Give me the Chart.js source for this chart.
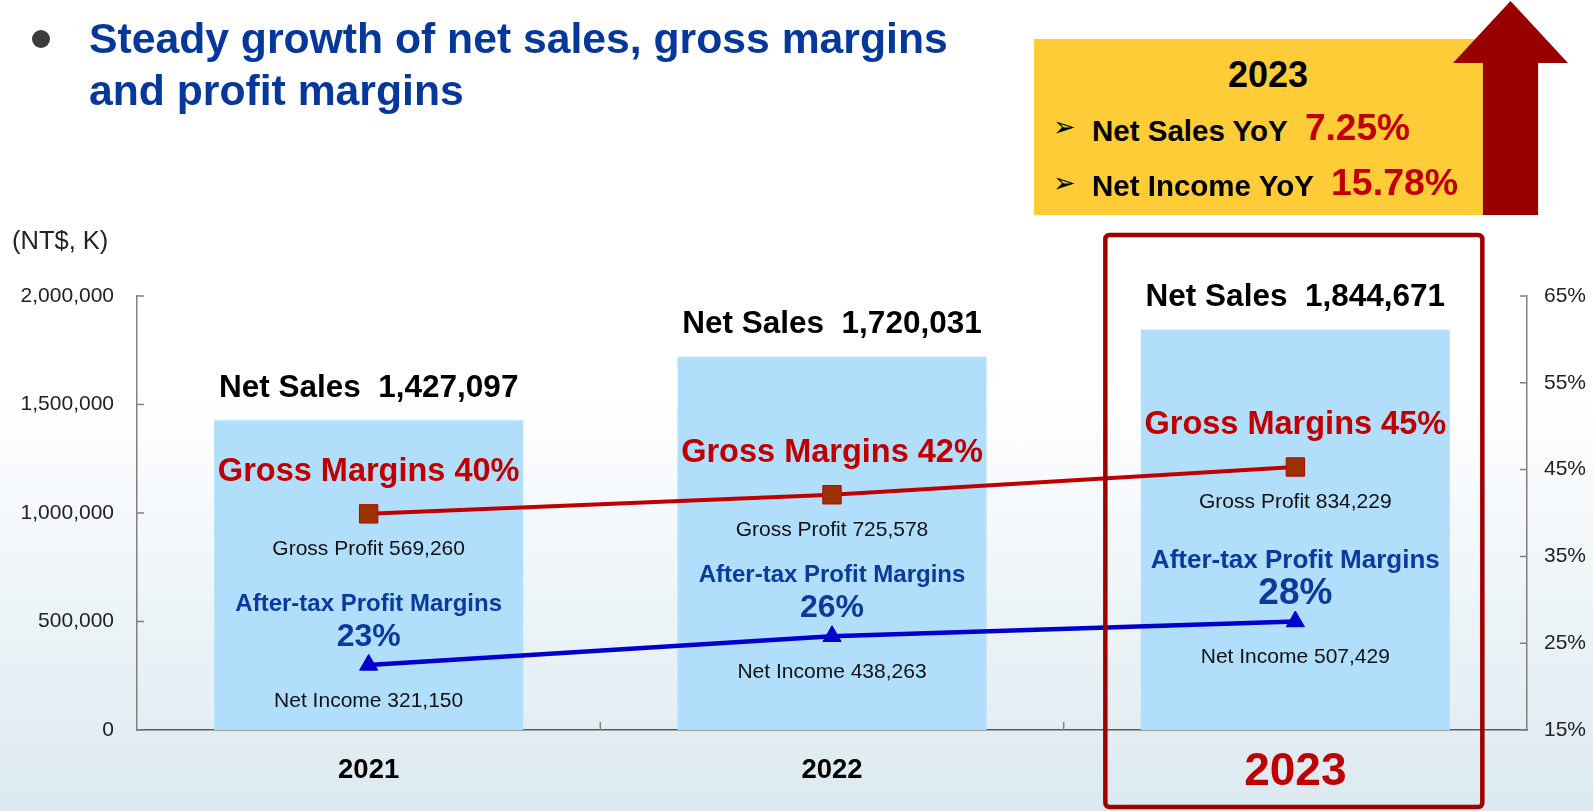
<!DOCTYPE html>
<html>
<head>
<meta charset="utf-8">
<script src="https://cdn.jsdelivr.net/npm/chart.js@4.4.0/dist/chart.umd.min.js"></script>
<style>
  html, body { margin: 0; padding: 0; }
  body {
    width: 1593px; height: 811px; position: relative; overflow: hidden;
    font-family: "Liberation Sans", Arial, sans-serif;
    background: linear-gradient(to bottom, #ffffff 0%, #ffffff 48%, #dce9f0 100%);
  }
  #chart { position: absolute; left: 0; top: 0; }
  .t { position: absolute; white-space: nowrap; line-height: 1; }
  .bullet { position: absolute; left: 32px; top: 30px; width: 18px; height: 18px; border-radius: 50%; background: #3c3c3c; }
  .title { left: 89px; top: 12px; font-size: 42.7px; line-height: 52px; font-weight: bold; color: #06389c; }
  .ybox { position: absolute; left: 1034px; top: 39px; width: 452px; height: 176px; background: #fdcc37; }
  .arrow { position: absolute; left: 1453px; top: 1px; width: 115px; height: 214px; background: #990000;
    clip-path: polygon(50% 0, 100% 29%, 74% 29%, 74% 100%, 26% 100%, 26% 29%, 0 29%); }
  .b { font-weight: bold; }
  .red { color: #c00000; }
  .mark { font-family: "DejaVu Sans", sans-serif; font-size: 27px; font-weight: bold; color: #000; }
</style>
</head>
<body>
<canvas id="chart" width="1593" height="811"></canvas>

<div class="bullet"></div>
<div class="t title">Steady growth of net sales, gross margins<br>and profit margins</div>

<div class="ybox"></div>
<div class="arrow"></div>
<div class="t b" style="left:1168px; width:200px; text-align:center; top:57px; font-size:36px;">2023</div>
<div class="t mark" style="left:1053px; top:113px;">➢</div>
<div class="t b" style="left:1092px; top:116px; font-size:29.5px;">Net Sales YoY</div>
<div class="t b red" style="left:1305px; top:109px; font-size:37px;">7.25%</div>
<div class="t mark" style="left:1053px; top:169px;">➢</div>
<div class="t b" style="left:1092px; top:171px; font-size:29.5px;">Net Income YoY</div>
<div class="t b red" style="left:1331px; top:164px; font-size:37.5px;">15.78%</div>

<div class="t" style="left:12px; top:228px; font-size:25.5px; color:#222;">(NT$, K)</div>

<script>
const FONT = '"Liberation Sans", Arial, sans-serif';

// dati del grafico
const years = ['2021', '2022', '2023'];
const netSales = [1427097, 1720031, 1844671];
const grossProfit = [569260, 725578, 834229];
const netIncome = [321150, 438263, 507429];
const grossMargin = [39.9, 42.1, 45.3];
const afterTaxMargin = [22.5, 25.8, 27.5];
const grossMarginLabels = ['40%', '42%', '45%'];
const afterTaxLabels = ['23%', '26%', '28%'];

// assi
const salesMin = 0, salesMax = 2000000, salesStep = 500000;
const pctMin = 15, pctMax = 65, pctStep = 10;

function fmt(v) {
  return v.toLocaleString('en-US');
}

function drawText(ctx, str, x, y, font, color) {
  ctx.font = font;
  ctx.fillStyle = color;
  ctx.fillText(str, x, y);
}

// etichette sopra barre e punti
const annotate = {
  id: 'annotate',
  afterDatasetsDraw(chart) {
    const ctx = chart.ctx;
    const bars = chart.getDatasetMeta(0).data;
    const gm = chart.getDatasetMeta(1).data;
    const at = chart.getDatasetMeta(2).data;
    ctx.save();
    ctx.textAlign = 'center';
    ctx.textBaseline = 'middle';
    years.forEach((yr, i) => {
      const last = i === years.length - 1;
      drawText(ctx, 'Net Sales  ' + fmt(netSales[i]), bars[i].x, bars[i].y - 32, 'bold 31.5px ' + FONT, '#000');
      drawText(ctx, 'Gross Margins ' + grossMarginLabels[i], gm[i].x, gm[i].y - 42, 'bold 32.5px ' + FONT, '#c00000');
      drawText(ctx, 'Gross Profit ' + fmt(grossProfit[i]), gm[i].x, gm[i].y + 35, '21px ' + FONT, '#111');
      drawText(ctx, 'After-tax Profit Margins', at[i].x, at[i].y - 61, 'bold ' + (last ? 26 : 24) + 'px ' + FONT, '#0b3a9e');
      drawText(ctx, afterTaxLabels[i], at[i].x, at[i].y - 28, 'bold ' + (last ? 37 : 32) + 'px ' + FONT, '#0b3a9e');
      drawText(ctx, 'Net Income ' + fmt(netIncome[i]), at[i].x, at[i].y + 36, '21px ' + FONT, '#111');
    });
    ctx.restore();
  },
  afterDraw(chart) {
    const ctx = chart.ctx;
    const area = chart.chartArea;
    const xs = chart.scales.x;
    const ys = chart.scales.y;
    const y1 = chart.scales.y1;
    ctx.save();
    // tacche interne
    ctx.strokeStyle = '#808080';
    ctx.lineWidth = 1.5;
    ctx.beginPath();
    ys.ticks.forEach(t => {
      const p = ys.getPixelForValue(t.value);
      ctx.moveTo(area.left, p); ctx.lineTo(area.left + 7, p);
    });
    y1.ticks.forEach(t => {
      const p = y1.getPixelForValue(t.value);
      ctx.moveTo(area.right - 7, p); ctx.lineTo(area.right, p);
    });
    for (let i = 0; i < years.length - 1; i++) {
      const p = (xs.getPixelForValue(i) + xs.getPixelForValue(i + 1)) / 2;
      ctx.moveTo(p, area.bottom); ctx.lineTo(p, area.bottom - 8);
    }
    ctx.stroke();

    // riquadro rosso 2023
    const cx = xs.getPixelForValue(years.length - 1);
    ctx.strokeStyle = '#a00000';
    ctx.lineWidth = 4.5;
    ctx.beginPath();
    ctx.roundRect(cx - 190, area.top - 61, 377, chart.height - (area.top - 61) - 4, 4);
    ctx.stroke();
    ctx.restore();
  }
};

new Chart(document.getElementById('chart'), {
  type: 'bar',
  data: {
    labels: years,
    datasets: [
      {
        label: 'Net Sales',
        data: netSales,
        backgroundColor: '#b1dffb',
        barPercentage: 0.667,
        categoryPercentage: 1,
        yAxisID: 'y',
        order: 3
      },
      {
        type: 'line',
        label: 'Gross Margins',
        data: grossMargin,
        yAxisID: 'y1',
        borderColor: '#c00000',
        borderWidth: 4,
        pointStyle: 'rect',
        pointRadius: 13,
        pointBackgroundColor: '#993300',
        pointBorderColor: '#c00000',
        pointBorderWidth: 1,
        order: 1
      },
      {
        type: 'line',
        label: 'After-tax Profit Margins',
        data: afterTaxMargin,
        yAxisID: 'y1',
        borderColor: '#0000cc',
        borderWidth: 4.5,
        pointStyle: 'triangle',
        pointRadius: 10.5,
        pointBackgroundColor: '#0000cc',
        pointBorderColor: '#0000cc',
        pointBorderWidth: 1,
        order: 2
      }
    ]
  },
  options: {
    responsive: false,
    animation: false,
    layout: { padding: { top: 296, left: 0, right: 0, bottom: 0 } },
    plugins: {
      legend: { display: false },
      tooltip: { enabled: false }
    },
    scales: {
      x: {
        grid: { display: false, drawTicks: false },
        border: { color: '#5a5a5a', width: 1.5 },
        ticks: {
          padding: 12,
          color: (c) => c.index === years.length - 1 ? '#c00000' : '#000',
          font: (c) => {
            const last = c.index === years.length - 1;
            const size = last ? 46 : 27.5;
            return { family: FONT, weight: 'bold', size: size, lineHeight: (last ? 60 : 56) / size };
          }
        },
        afterFit: (s) => { s.height = 81; }
      },
      y: {
        position: 'left',
        min: salesMin,
        max: salesMax,
        grid: { display: false, drawTicks: false },
        border: { color: '#808080', width: 1.5 },
        ticks: {
          stepSize: salesStep,
          padding: 23,
          color: '#222',
          font: { family: FONT, size: 21 },
          callback: (v) => fmt(v)
        },
        afterFit: (s) => { s.width = 137; }
      },
      y1: {
        position: 'right',
        min: pctMin,
        max: pctMax,
        grid: { display: false, drawTicks: false },
        border: { color: '#808080', width: 1.5 },
        ticks: {
          stepSize: pctStep,
          padding: 17,
          color: '#222',
          font: { family: FONT, size: 21 },
          callback: (v) => v + '%'
        },
        afterFit: (s) => { s.width = 66; }
      }
    }
  },
  plugins: [annotate]
});
</script>
</body>
</html>
